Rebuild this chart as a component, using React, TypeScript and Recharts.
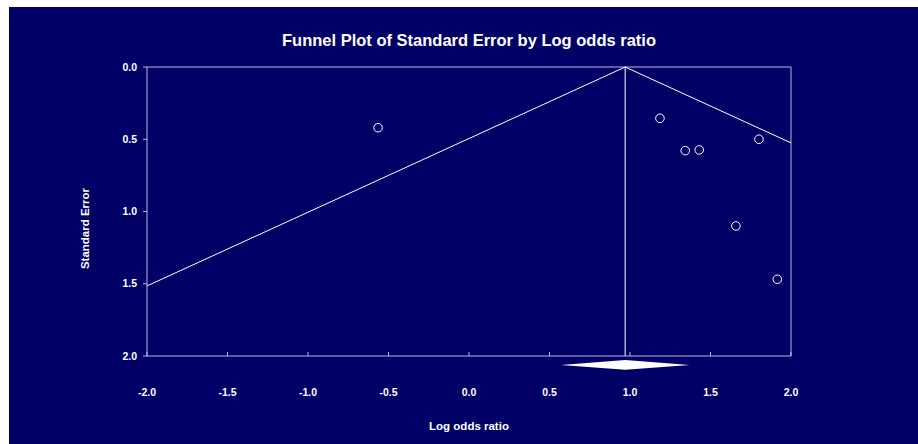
import React from 'react'
import {
  ScatterChart,
  Scatter,
  XAxis,
  YAxis,
  ReferenceLine,
  ReferenceArea,
} from 'recharts'

// studies: log odds ratio vs standard error
const studyLogOdds = [-0.565, 1.186, 1.343, 1.43, 1.801, 1.658, 1.915]
const studySE = [0.42, 0.355, 0.579, 0.574, 0.5, 1.1, 1.469]

// pooled estimate and its confidence interval
const pooledLogOdds = 0.97
const pooledLow = 0.571
const pooledHigh = 1.371

// funnel limits (where the 95% lines leave the plot)
const funnelLeft = { x: -2, se: 1.515 }
const funnelRight = { x: 2, se: 0.525 }

const xTicks = [-2, -1.5, -1, -0.5, 0, 0.5, 1, 1.5, 2]
const yTicks = [0, 0.5, 1, 1.5, 2]

const studies = studyLogOdds.map((x, i) => ({ x, se: studySE[i] }))

const NAVY = '#000066'
const FRAME = '#b8b8d8'
const FONT = '"Liberation Sans", Arial, sans-serif'

const XTick = (props: any) => {
  const { x, y, payload } = props
  return (
    <g>
      <line x1={x} x2={x} y1={y} y2={y - 4} stroke={FRAME} />
      <text
        x={x}
        y={y + 40}
        textAnchor="middle"
        fill="#fff"
        fontSize={10.5}
        fontWeight="bold"
        fontFamily={FONT}
      >
        {Number(payload.value).toFixed(1)}
      </text>
    </g>
  )
}

const Diamond = (props: any) => {
  const { x, y, width, height } = props
  const pts = [
    [x, y + height / 2],
    [x + width / 2, y],
    [x + width, y + height / 2],
    [x + width / 2, y + height],
  ]
    .map((p) => p.join(','))
    .join(' ')
  return <polygon points={pts} fill="#fff" stroke="none" />
}

const Circle = (props: any) => {
  const { cx, cy } = props
  return <circle cx={cx} cy={cy} r={4.3} fill="none" stroke="#fff" strokeWidth={1} />
}

const YLabel = (props: any) => {
  const { viewBox } = props
  const cx = viewBox.x + 76
  const cy = viewBox.y + viewBox.height / 2 + 17
  return (
    <text
      x={cx}
      y={cy}
      transform={`rotate(-90 ${cx} ${cy})`}
      textAnchor="middle"
      dominantBaseline="central"
      fill="#fff"
      fontSize={11.5}
      fontWeight="bold"
      fontFamily={FONT}
    >
      Standard Error
    </text>
  )
}

const XLabel = (props: any) => {
  const { viewBox } = props
  return (
    <text
      x={viewBox.x + viewBox.width / 2}
      y={viewBox.y + 74}
      textAnchor="middle"
      fill="#fff"
      fontSize={11.5}
      fontWeight="bold"
      fontFamily={FONT}
    >
      Log odds ratio
    </text>
  )
}

export default function App() {
  return (
    <div
      style={{
        position: 'fixed',
        left: 9,
        top: 7,
        width: 909,
        height: 437,
        background: NAVY,
      }}
    >
      <svg
        width={909}
        height={437}
        style={{ position: 'absolute', left: 0, top: 0, pointerEvents: 'none' }}
      >
        <text
          x={460}
          y={38.7}
          textAnchor="middle"
          fill="#fff"
          fontSize={16.5}
          fontWeight="bold"
          fontFamily={FONT}
        >
          Funnel Plot of Standard Error by Log odds ratio
        </text>
      </svg>
      <ScatterChart
        width={909}
        height={437}
        margin={{ top: 60, right: 127, bottom: 0, left: 0 }}
      >
        <XAxis
          type="number"
          dataKey="x"
          domain={[-2, 2]}
          ticks={xTicks}
          interval={0}
          height={88}
          stroke={FRAME}
          tickSize={0}
          tickMargin={0}
          tick={<XTick />}
          label={<XLabel />}
        />
        <YAxis
          type="number"
          dataKey="se"
          domain={[0, 2]}
          reversed
          ticks={yTicks}
          interval={0}
          width={138}
          stroke={FRAME}
          tickSize={4}
          tickMargin={6}
          tickFormatter={(v: number) => v.toFixed(1)}
          tick={{ fill: '#fff', fontSize: 10.5, fontWeight: 'bold', fontFamily: FONT }}
          label={<YLabel />}
        />
        <ReferenceLine y={0} stroke={FRAME} />
        <ReferenceLine x={2} stroke={FRAME} />
        <ReferenceLine x={pooledLogOdds} stroke="#fff" />
        <ReferenceLine
          segment={[
            { x: funnelLeft.x, y: funnelLeft.se },
            { x: pooledLogOdds, y: 0 },
          ]}
          stroke="#fff"
        />
        <ReferenceLine
          segment={[
            { x: pooledLogOdds, y: 0 },
            { x: funnelRight.x, y: funnelRight.se },
          ]}
          stroke="#fff"
        />
        <ReferenceArea
          x1={pooledLow}
          x2={pooledHigh}
          y1={2.028}
          y2={2.095}
          ifOverflow="visible"
          shape={<Diamond />}
        />
        <Scatter data={studies} shape={<Circle />} isAnimationActive={false} />
      </ScatterChart>
    </div>
  )
}
